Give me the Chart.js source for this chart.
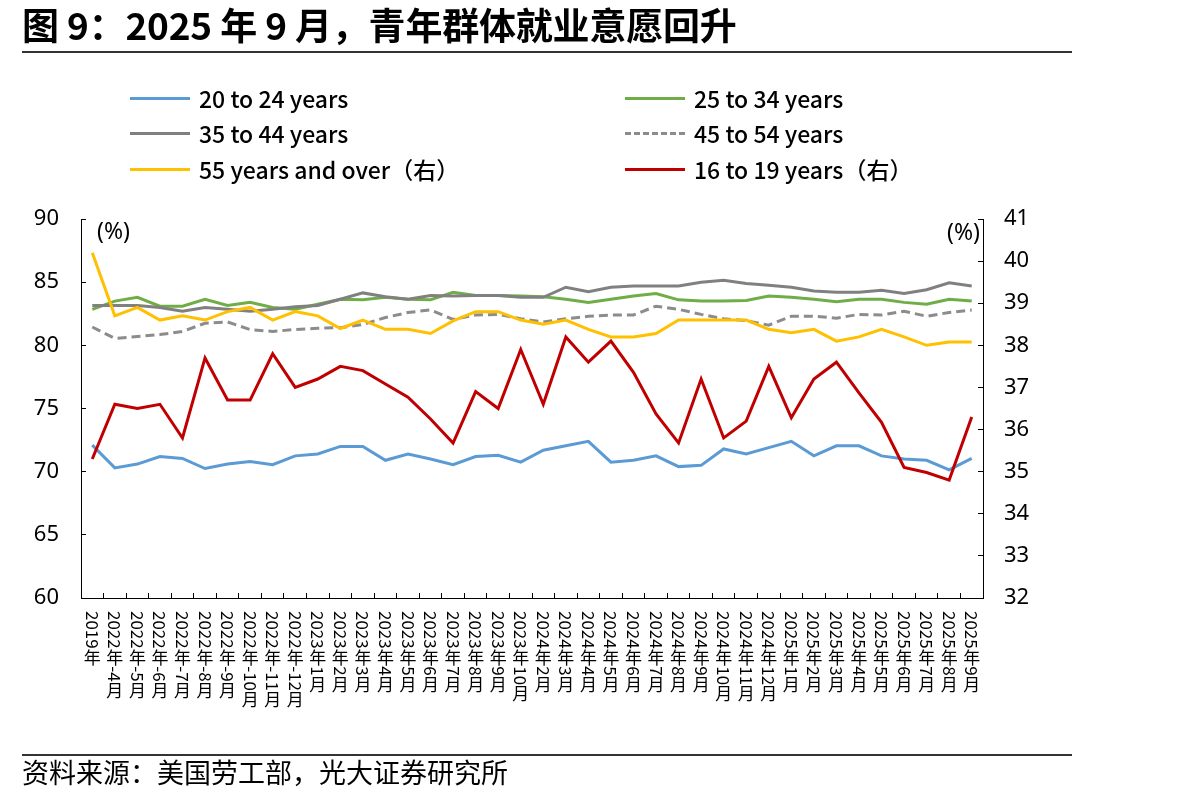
<!DOCTYPE html>
<html>
<head>
<meta charset="utf-8">
<script src="https://cdn.jsdelivr.net/npm/chart.js@4.4.1/dist/chart.umd.min.js"></script>
<style>
  html, body { margin: 0; padding: 0; background: #fff; }
  #page { position: relative; width: 1180px; height: 802px; overflow: hidden; background: #fff; }
  #title { position: absolute; left: 22px; top: 3px; font-family: "Noto Sans CJK SC", sans-serif; font-weight: 700; font-size: 37px; line-height: 42px; color: #000; white-space: nowrap; letter-spacing: -0.2px; }
  .rule { position: absolute; left: 22px; width: 1050px; height: 2px; background: #333; }
  #src { position: absolute; left: 22px; top: 756px; font-family: "Noto Sans CJK SC", sans-serif; font-size: 27px; line-height: 32px; color: #000; white-space: nowrap; }
  .leg { position: absolute; height: 30px; display: flex; align-items: center; font-family: "Noto Sans CJK SC", sans-serif; font-weight: 500; font-size: 23px; color: #000; white-space: nowrap; }
  .leg .sw { width: 60px; height: 0; border-top: 3px solid; margin-right: 9px; }
  .unit { position: absolute; font-family: "Noto Sans", sans-serif; font-size: 23px; line-height: 26px; color: #000; }
  canvas { position: absolute; left: 0; top: 0; }
</style>
</head>
<body>
<div id="page">
  <canvas id="c" width="1180" height="802"></canvas>
  <div id="title">图 9：2025 年 9 月，青年群体就业意愿回升</div>
  <div class="rule" style="top:51px"></div>
  <div class="leg" style="left:130px; top:83px"><span class="sw" style="border-color:#5B9BD5"></span>20 to 24 years</div>
  <div class="leg" style="left:625px; top:83px"><span class="sw" style="border-color:#70AD47"></span>25 to 34 years</div>
  <div class="leg" style="left:130px; top:118px"><span class="sw" style="border-color:#808080"></span>35 to 44 years</div>
  <div class="leg" style="left:625px; top:118px"><span class="sw" style="border-top-style:dashed;border-color:#8C8C8C"></span>45 to 54 years</div>
  <div class="leg" style="left:130px; top:154px"><span class="sw" style="border-color:#FFC000"></span>55 years and over（右）</div>
  <div class="leg" style="left:625px; top:154px"><span class="sw" style="border-color:#C00000"></span>16 to 19 years（右）</div>
  <div class="unit" style="left:97px; top:217px">(%)</div>
  <div class="unit" style="left:947px; top:218px">(%)</div>
  <div class="rule" style="top:754px"></div>
  <div id="src">资料来源：美国劳工部，光大证券研究所</div>
</div>
<script>
const categories = ['2019年','2022年-4月','2022年-5月','2022年-6月','2022年-7月','2022年-8月','2022年-9月','2022年-10月','2022年-11月','2022年-12月',
  '2023年1月','2023年2月','2023年3月','2023年4月','2023年5月','2023年6月','2023年7月','2023年8月','2023年9月','2023年10月',
  '2024年2月','2024年3月','2024年4月','2024年5月','2024年6月','2024年7月','2024年8月','2024年9月','2024年10月','2024年11月','2024年12月',
  '2025年1月','2025年2月','2025年3月','2025年4月','2025年5月','2025年6月','2025年7月','2025年8月','2025年9月'];

const age20to24 = [72.1,70.3,70.6,71.2,71.05,70.25,70.6,70.8,70.55,71.25,71.4,72.0,72.0,70.9,71.4,71.0,70.55,71.2,71.3,70.75,
  71.7,72.05,72.4,70.75,70.9,71.25,70.4,70.5,71.8,71.4,71.9,72.4,71.25,72.05,72.05,71.25,71.0,70.9,70.15,71.05];
const age25to34 = [82.85,83.5,83.8,83.1,83.1,83.65,83.15,83.4,83.0,82.85,83.25,83.65,83.6,83.8,83.65,83.6,84.2,83.95,83.95,83.9,
  83.85,83.65,83.4,83.65,83.9,84.1,83.6,83.5,83.5,83.55,83.9,83.8,83.65,83.45,83.65,83.65,83.4,83.25,83.65,83.5];
const age35to44 = [83.15,83.15,83.15,83.0,82.7,83.0,82.85,82.7,82.85,83.05,83.15,83.65,84.15,83.85,83.65,83.95,83.9,83.95,83.95,83.8,
  83.8,84.6,84.25,84.6,84.7,84.7,84.7,85.0,85.15,84.9,84.75,84.6,84.3,84.2,84.2,84.35,84.1,84.4,84.95,84.7];
const age45to54 = [81.45,80.55,80.7,80.85,81.1,81.75,81.85,81.25,81.1,81.25,81.35,81.4,81.65,82.2,82.6,82.8,82.05,82.4,82.45,82.1,
  81.85,82.1,82.3,82.4,82.4,83.1,82.85,82.45,82.1,81.95,81.6,82.3,82.3,82.15,82.45,82.4,82.7,82.3,82.6,82.8];
const age55plus = [40.2,38.7,38.9,38.6,38.7,38.6,38.8,38.9,38.6,38.8,38.7,38.4,38.6,38.38,38.38,38.28,38.58,38.8,38.8,38.6,
  38.5,38.6,38.38,38.2,38.2,38.28,38.6,38.6,38.6,38.6,38.38,38.3,38.38,38.1,38.2,38.38,38.2,38.0,38.08,38.08];
const age16to19 = [35.3,36.6,36.5,36.6,35.8,37.7,36.7,36.7,37.8,37.0,37.2,37.5,37.4,37.08,36.77,36.25,35.68,36.9,36.5,37.9,
  36.6,38.2,37.6,38.1,37.36,36.37,35.68,37.2,35.8,36.2,37.5,36.28,37.2,37.6,36.87,36.17,35.1,34.98,34.8,36.3];

const leftTicks = {min: 60, max: 90, step: 5};
const rightTicks = {min: 32, max: 41, step: 1};

function ds(label, data, color, axis, order, dash) {
  return { label, data, borderColor: color, backgroundColor: color, yAxisID: axis, order,
    borderWidth: 3, pointRadius: 0, tension: 0, fill: false, borderDash: dash || [] };
}

const verticalLabels = {
  id: 'verticalLabels',
  afterDraw(chart) {
    const sc = chart.scales.x;
    const ctx = chart.ctx;
    ctx.save();
    ctx.font = '17px "Noto Sans CJK SC", sans-serif';
    ctx.fillStyle = '#000';
    const labels = chart.data.labels;
    for (let i = 0; i < labels.length; i++) {
      const x = sc.getPixelForTick(i);
      let y = sc.top + 13;
      for (const ch of labels[i]) {
        if (/[\u3000-\u9fff]/.test(ch)) {
          ctx.textAlign = 'center';
          ctx.textBaseline = 'top';
          ctx.fillText(ch, x, y);
          y += 17.5;
        } else {
          const w = ctx.measureText(ch).width;
          ctx.save();
          ctx.translate(x, y);
          ctx.rotate(Math.PI / 2);
          ctx.textAlign = 'left';
          ctx.textBaseline = 'middle';
          ctx.fillText(ch, 0, 0);
          ctx.restore();
          y += w;
        }
      }
    }
    ctx.restore();
  }
};

new Chart(document.getElementById('c'), {
  type: 'line',
  data: {
    labels: categories,
    datasets: [
      ds('20 to 24 years', age20to24, '#5B9BD5', 'y', 5),
      ds('25 to 34 years', age25to34, '#70AD47', 'y', 4),
      ds('35 to 44 years', age35to44, '#808080', 'y', 3),
      ds('45 to 54 years', age45to54, '#8C8C8C', 'y', 2, [9, 5]),
      ds('55 years and over（右）', age55plus, '#FFC000', 'y1', 1),
      ds('16 to 19 years（右）', age16to19, '#C00000', 'y1', 0)
    ]
  },
  options: {
    responsive: false,
    animation: false,
    layout: { padding: { top: 219, bottom: 0, left: 0, right: 0 } },
    plugins: { legend: { display: false }, tooltip: { enabled: false }, title: { display: false } },
    scales: {
      x: {
        type: 'category', offset: true,
        grid: { display: true, drawOnChartArea: false, drawTicks: true, tickLength: -5, offset: true, color: '#000', lineWidth: 1 },
        border: { display: true, color: '#000', width: 1 },
        ticks: { display: false },
        afterFit(s) { s.height = 204; }
      },
      y: {
        position: 'left', min: leftTicks.min, max: leftTicks.max,
        ticks: { stepSize: leftTicks.step, padding: 27, color: '#000', font: { family: '"Noto Sans", sans-serif', size: 22 } },
        grid: { drawOnChartArea: false, drawTicks: true, tickLength: -5, color: '#000' },
        border: { color: '#000', width: 1 },
        afterFit(s) { s.width = 81; }
      },
      y1: {
        position: 'right', min: rightTicks.min, max: rightTicks.max,
        ticks: { stepSize: rightTicks.step, padding: 26, color: '#000', font: { family: '"Noto Sans", sans-serif', size: 22 } },
        grid: { drawOnChartArea: false, drawTicks: true, tickLength: -5, color: '#000' },
        border: { color: '#000', width: 1 },
        afterFit(s) { s.width = 197; }
      }
    }
  },
  plugins: [verticalLabels]
});
</script>
</body>
</html>
